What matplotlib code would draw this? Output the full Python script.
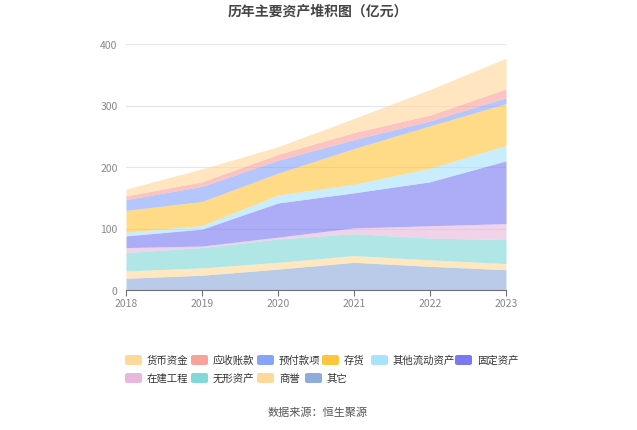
import matplotlib.pyplot as plt
from matplotlib.patches import FancyBboxPatch
import numpy as np

plt.rcParams['font.family'] = ['Noto Sans CJK SC', 'DejaVu Sans']

years = [2018, 2019, 2020, 2021, 2022, 2023]

# bottom to top, values in 亿元
qita = [19, 24, 34, 45, 38.5, 33]
shangyu = [12, 12, 11, 11, 10.5, 10]
wuxing = [30, 33, 38, 35.6, 35.5, 39]
zaijian = [8, 2.5, 3, 9.4, 20, 26]
guding = [19, 27.5, 55.5, 57, 71.5, 102]
qitaliudong = [6, 6, 13, 14, 22, 25]
cunhuo = [35.5, 39, 35.5, 58, 69, 68]
yufu = [17.5, 24.5, 21, 14.5, 8, 9.7]
yingshou = [6, 7.5, 9.5, 11.5, 9.5, 14.3]
huobi = [11, 21, 12.5, 23, 41.5, 50]

series = [
    ("其它", qita, "#8eacdb"),
    ("商誉", shangyu, "#ffd99a"),
    ("无形资产", wuxing, "#80d8d8"),
    ("在建工程", zaijian, "#e8b8dc"),
    ("固定资产", guding, "#7b79f2"),
    ("其他流动资产", qitaliudong, "#a8e2fb"),
    ("存货", cunhuo, "#ffc53d"),
    ("预付款项", yufu, "#86a4f9"),
    ("应收账款", yingshou, "#f9a19b"),
    ("货币资金", huobi, "#ffd89c"),
]

fig = plt.figure(figsize=(6.37, 4.31), dpi=100)
W, H = 637, 431
ax = fig.add_axes([126 / W, 1 - 291 / H, 380 / W, 246 / H])

x = np.array(years)
base = np.zeros(len(years))
for name, vals, color in series:
    top = base + np.array(vals)
    ax.fill_between(x, base, top, color=color, alpha=0.62, linewidth=0)
    base = top

ax.set_xlim(2018, 2023)
ax.set_ylim(0, 400)
ax.set_xticks(years)
ax.set_yticks([0, 100, 200, 300, 400])
ax.grid(axis='y', color='#e0e6f1', linewidth=0.8)
ax.set_axisbelow(True)
for s in ['top', 'right', 'left']:
    ax.spines[s].set_visible(False)
ax.spines['bottom'].set_color('#6e7079')
ax.spines['bottom'].set_linewidth(0.8)
ax.tick_params(axis='y', length=0, colors='#6e7079', labelsize=7.5, pad=6)
ax.tick_params(axis='x', length=4, color='#6e7079', colors='#6e7079', labelsize=7.5, pad=2)
for lab in ax.get_yticklabels() + ax.get_xticklabels():
    lab.set_color('#888888')

fig.text(318 / W, 1 - 12 / H, "历年主要资产堆积图（亿元）", ha='center', va='center',
         fontsize=10, fontweight='bold', color='#464646')

# legend, laid out like the original rows
legend_order = ["货币资金", "应收账款", "预付款项", "存货", "其他流动资产", "固定资产",
                "在建工程", "无形资产", "商誉", "其它"]
legend_x = [125, 191, 257, 322, 371, 455, 125, 191, 257, 305]
legend_y = [361, 361, 361, 361, 361, 361, 379, 379, 379, 379]
colors = {name: color for name, _, color in series}
for name, lx, ly in zip(legend_order, legend_x, legend_y):
    patch = FancyBboxPatch((lx / W, 1 - (ly + 5) / H), 17 / W, 10 / H,
                           boxstyle="round,pad=0,rounding_size=0.004",
                           transform=fig.transFigure, facecolor=colors[name],
                           edgecolor='none')
    fig.patches.append(patch)
    fig.text((lx + 22) / W, 1 - ly / H, name, ha='left', va='center',
             fontsize=7.5, color='#333333')

fig.text(318 / W, 1 - 413 / H, "数据来源：恒生聚源", ha='center', va='center',
         fontsize=8, color='#555555')

fig.savefig("out.png", dpi=100)
